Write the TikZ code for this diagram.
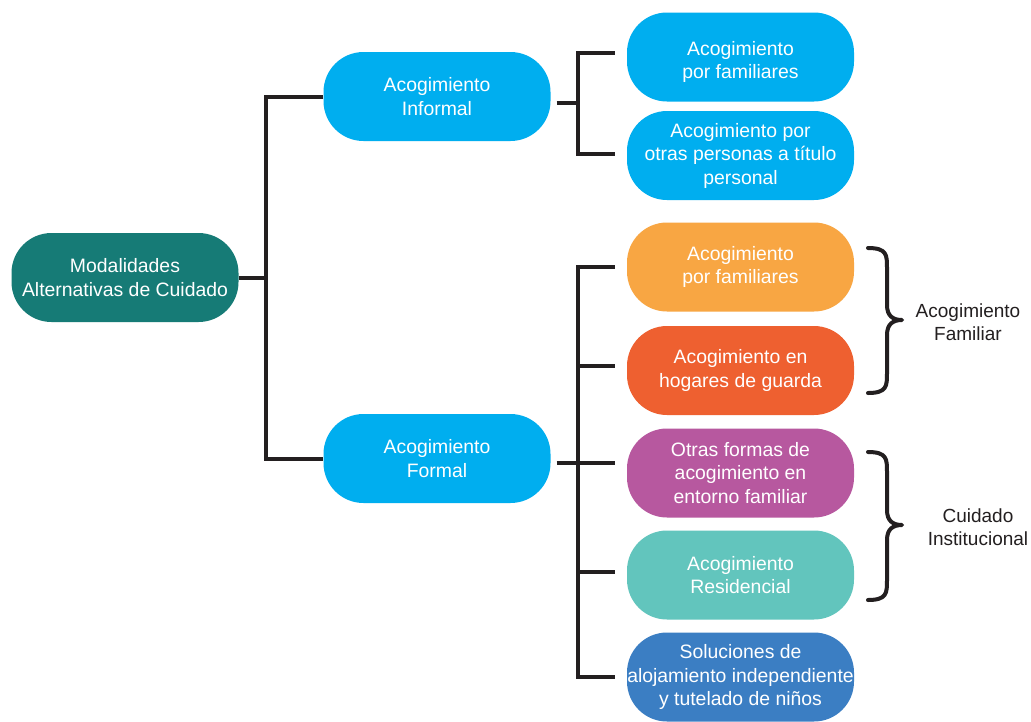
\documentclass[tikz,border=0pt]{standalone}
\usepackage{fontspec}
\setmainfont{Liberation Sans}
\definecolor{cRoot}{HTML}{167B76}
\definecolor{cSky}{HTML}{00AEEF}
\definecolor{cOrange}{HTML}{F8A643}
\definecolor{cRed}{HTML}{EE6030}
\definecolor{cPurple}{HTML}{B7589F}
\definecolor{cTeal}{HTML}{62C5BD}
\definecolor{cBlue}{HTML}{3B7EC3}
\definecolor{cLine}{HTML}{231F20}
\begin{document}
\begin{tikzpicture}[x=1pt,y=-1pt,
  box/.style={rounded corners=40pt, minimum width=227pt, minimum height=89pt,
    inner sep=0pt, align=center, text=white,
    font=\fontsize{19.4}{23.5}\selectfont},
  conn/.style={draw=cLine, line width=4pt},
  brace/.style={draw=cLine, line width=4pt, line cap=round, line join=round},
  lbl/.style={align=center, text=cLine, font=\fontsize{19}{23.5}\selectfont}]
\useasboundingbox (0,0) rectangle (1031,721);
\fill[white] (0,0) rectangle (1031,721);
% nodes
\node[box, fill=cRoot] (root) at (125,277.5) {Modalidades\\Alternativas de Cuidado};
\node[box, fill=cSky] (inf) at (437,96.5) {Acogimiento\\Informal};
\node[box, fill=cSky] (form) at (437,458.5) {Acogimiento\\Formal};
\node[box, fill=cSky, label={[align=center, text=white, font=\fontsize{19.4}{23.5}\selectfont, yshift=-5pt]center:{Acogimiento\\por familiares}}] (n1) at (740.5,57) {};
\node[box, fill=cSky] (n2) at (740.5,155.5) {Acogimiento por\\otras personas a título\\personal};
\node[box, fill=cOrange] (n3) at (740.5,267) {Acogimiento\\por familiares};
\node[box, fill=cRed] (n4) at (740.5,370.5) {Acogimiento en\\hogares de guarda};
\node[box, fill=cPurple] (n5) at (740.5,473) {Otras formas de\\acogimiento en\\entorno familiar};
\node[box, fill=cTeal] (n6) at (740.5,575) {Acogimiento\\Residencial};
\node[box, fill=cBlue] (n7) at (740.5,677) {Soluciones de\\alojamiento independiente\\y tutelado de niños};
% connectors
\coordinate (j0) at (266,277.5);
\draw[conn] (root.east) -- (j0);
\draw[conn] (inf.west) -| (j0) |- (form.west);
\coordinate (j1) at (578,103);
\draw[conn] ([xshift=6pt]inf.east |- j1) -- (j1);
\draw[conn, shorten >=12pt] (j1) |- ([yshift=4pt]n1.west);
\draw[conn, shorten >=12pt] (j1) |- ([yshift=2pt]n2.west);
\coordinate (j2) at (578,463);
\draw[conn] ([xshift=6pt]form.east |- j2) -- (j2);
\draw[conn, shorten >=12pt] (j2) |- (n3.west);
\draw[conn, shorten >=12pt] (j2) |- ([yshift=5pt]n4.west);
\draw[conn, shorten >=12pt] (j2) |- ([yshift=10pt]n5.west);
\draw[conn, shorten >=12pt] (j2) |- ([yshift=3pt]n6.west);
\draw[conn, shorten >=12pt] (j2) |- (n7.west);
% braces
\draw[brace] (868,248) .. controls (887,248) and (887,255) .. (887,268) -- (887,305)
  .. controls (887,316) and (893,320) .. (902,320)
  .. controls (893,320) and (887,324) .. (887,335) -- (887,373)
  .. controls (887,386) and (887,393) .. (868,393);
\draw[brace] (868,452) .. controls (887,452) and (887,459) .. (887,472) -- (887,510)
  .. controls (887,521) and (893,525) .. (902,525)
  .. controls (893,525) and (887,529) .. (887,540) -- (887,580)
  .. controls (887,593) and (887,600) .. (868,600);
\node[lbl] (l1) at (968,322) {Acogimiento\\Familiar};
\node[lbl] (l2) at (978,527) {Cuidado\\Institucional};
\end{tikzpicture}
\end{document}
